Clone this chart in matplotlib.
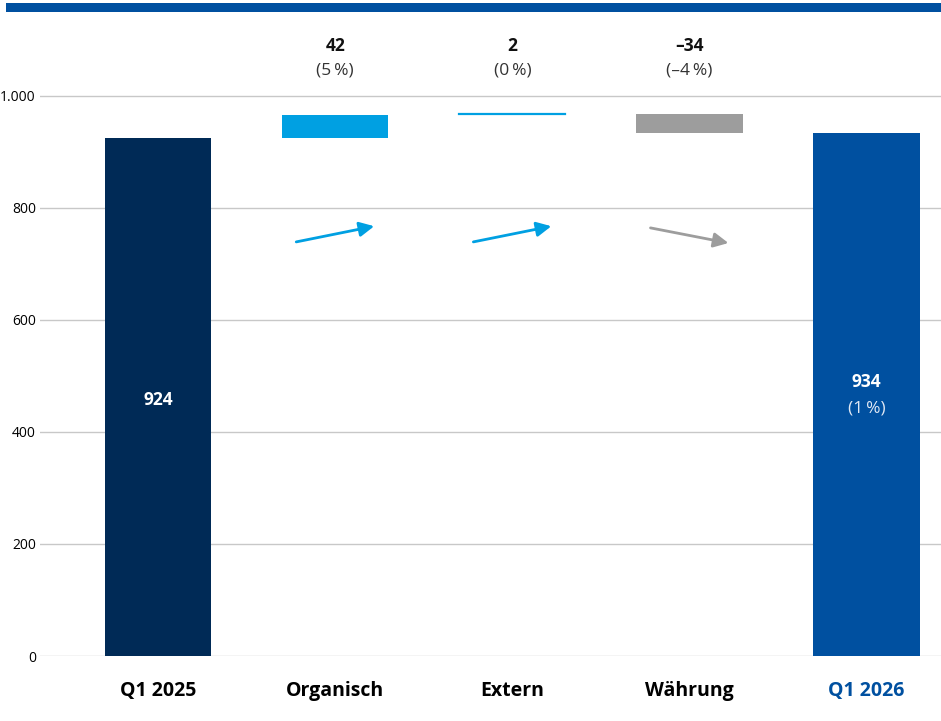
import matplotlib.pyplot as plt
from matplotlib.ticker import FuncFormatter

plt.rcParams['font.family'] = ['Open Sans', 'DejaVu Sans']

categories = ['Q1 2025', 'Organisch', 'Extern', 'Währung', 'Q1 2026']
values = [924, 42, 2, -34, 934]
value_labels = ['924', '42', '2', '–34', '934']
pct_labels = [None, '(5\u2009%)', '(0\u2009%)', '(–4\u2009%)', '(1\u2009%)']
yticks = [0, 200, 400, 600, 800, 1000]

navy = '#002a56'
blue = '#0050a0'
light = '#00a0e2'
grey = '#9d9d9d'
colors = [navy, light, light, grey, blue]

fig = plt.figure(figsize=(9.41, 7.21), dpi=100)
# blue band at the top
fig.add_artist(plt.Rectangle((6 / 941, 1 - 12 / 721), 1, 9 / 721,
                             transform=fig.transFigure, color=blue, lw=0))

left = 40
ax = fig.add_axes([left / 941, 65 / 721, 1 - left / 941, 636 / 721])

# waterfall bottoms
bottoms = []
running = 0
for i, v in enumerate(values):
    if i == 0 or i == len(values) - 1:
        bottoms.append(0)
        running = v if i == 0 else running
    else:
        bottoms.append(running if v >= 0 else running + v)
        running += v
heights = [abs(v) for v in values]

x = list(range(len(categories)))
ax.bar(x, heights, bottom=bottoms, width=0.6, color=colors, zorder=3)
# the tiny "Extern" step as a line
ax.plot([2 - 0.3, 2 + 0.3], [bottoms[2] + 1, bottoms[2] + 1], color=light, lw=1.6, zorder=4)

# labels above the change bars
for i in range(1, len(values) - 1):
    ax.text(i, 1089, value_labels[i], ha='center', va='center', fontsize=12.5,
            fontweight='bold', color='#111111')
    ax.text(i, 1044, pct_labels[i], ha='center', va='center', fontsize=12.5,
            color='#333333')

# labels inside the totals
ax.text(0, 457, value_labels[0], ha='center', va='center', fontsize=12.5,
        fontweight='bold', color='white', zorder=5)
ax.text(4, 489, value_labels[4], ha='center', va='center', fontsize=12.5,
        fontweight='bold', color='white', zorder=5)
ax.text(4, 441, pct_labels[4], ha='center', va='center', fontsize=12.5,
        color='#e0e8f4', zorder=5)

# trend arrows
for i in range(1, len(values) - 1):
    up = values[i] >= 0
    c = light if up else grey
    y0, y1 = (739, 767) if up else (764, 737)
    ax.annotate('', xy=(i + 0.22, y1), xytext=(i - 0.22, y0),
                arrowprops=dict(arrowstyle='-|>', color=c, lw=2,
                                mutation_scale=22, shrinkA=0, shrinkB=0))

ax.set_xlim(-(158 - left) / 177, 4.42)
ax.set_ylim(0, 1135)
ax.set_yticks(yticks)
ax.yaxis.set_major_formatter(FuncFormatter(lambda v, p: f'{int(v):,}'.replace(',', '.')))
ax.grid(axis='y', color='#c8c8c8', lw=1, zorder=0)
ax.set_xticks(x)
ax.set_xticklabels(categories, fontsize=14, fontweight='bold')
ax.get_xticklabels()[-1].set_color(blue)
ax.tick_params(length=0)
ax.tick_params(axis='x', pad=18)
ax.tick_params(axis='y', pad=3, labelsize=10)
for s in ax.spines.values():
    s.set_visible(False)

fig.savefig('out.png', dpi=100)
